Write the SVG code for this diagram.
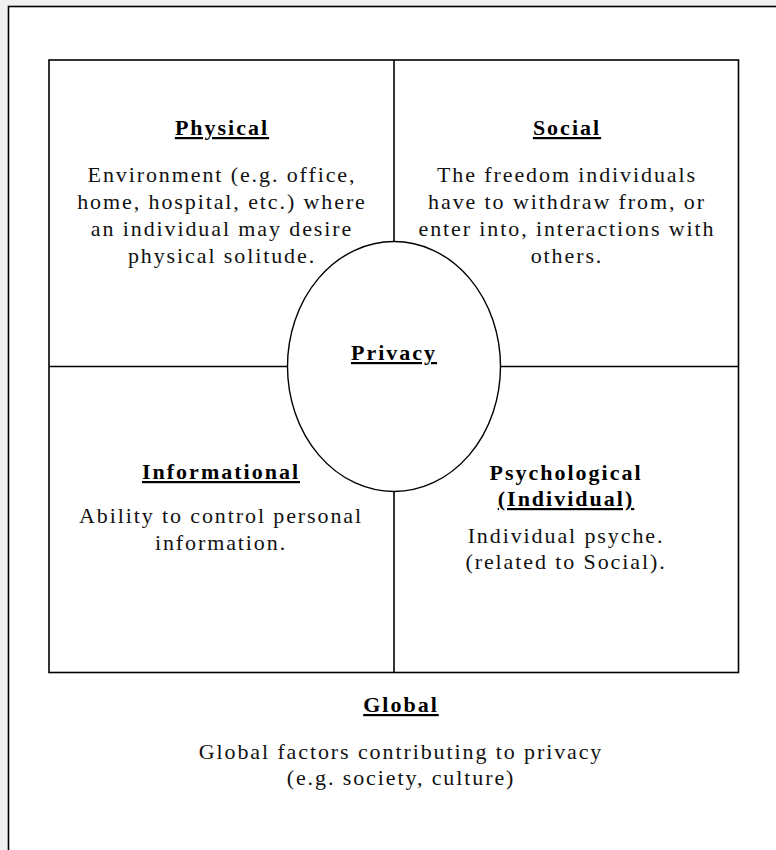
<svg xmlns="http://www.w3.org/2000/svg" width="776" height="850" viewBox="0 0 776 850">
  <style>
    .frame { fill: #ffffff; stroke: #000000; stroke-width: 1.6; }
    .grid { fill: none; stroke: #000000; stroke-width: 1.6; }
    .title { font-family: "Liberation Serif", "Times New Roman", serif; font-weight: bold; font-size: 22px; letter-spacing: 2px; fill: #000000; text-anchor: middle; }
    .ul { text-decoration: underline; }
    .body { font-family: "Liberation Serif", "Times New Roman", serif; font-size: 22px; letter-spacing: 1.9px; fill: #111111; text-anchor: middle; }
  </style>

  <!-- page background and outer frame -->
  <rect x="0" y="0" width="776" height="850" fill="#f1f1f1"/>
  <rect class="frame" x="8.5" y="6.5" width="790" height="870"/>

  <!-- quadrant grid -->
  <g id="connectors">
    <rect class="grid" x="49" y="60" width="689.5" height="612.5"/>
    <line class="grid" x1="394" y1="60" x2="394" y2="672.5"/>
    <line class="grid" x1="49" y1="366.5" x2="738.5" y2="366.5"/>
  </g>

  <g id="physical">
    <text class="title ul" x="222" y="135">Physical</text>
    <text class="body" x="222" y="182">Environment (e.g. office,</text>
    <text class="body" x="222" y="209">home, hospital, etc.) where</text>
    <text class="body" x="222" y="236">an individual may desire</text>
    <text class="body" x="222" y="263">physical solitude.</text>
  </g>

  <g id="social">
    <text class="title ul" x="567" y="135">Social</text>
    <text class="body" x="567" y="182">The freedom individuals</text>
    <text class="body" x="567" y="209">have to withdraw from, or</text>
    <text class="body" x="567" y="236">enter into, interactions with</text>
    <text class="body" x="567" y="263">others.</text>
  </g>

  <g id="informational">
    <text class="title ul" x="221" y="479">Informational</text>
    <text class="body" x="221" y="523">Ability to control personal</text>
    <text class="body" x="221" y="550">information.</text>
  </g>

  <g id="psychological">
    <text class="title" x="566" y="480">Psychological</text>
    <text class="title ul" x="566" y="506">(Individual)</text>
    <text class="body" x="566" y="543">Individual psyche.</text>
    <text class="body" x="566" y="569">(related to Social).</text>
  </g>

  <g id="privacy">
    <ellipse cx="394" cy="366.5" rx="106.5" ry="125" fill="#ffffff" stroke="#000000" stroke-width="1.4"/>
    <text class="title ul" x="394" y="360">Privacy</text>
  </g>

  <g id="global">
    <text class="title ul" x="401" y="712">Global</text>
    <text class="body" x="401" y="759">Global factors contributing to privacy</text>
    <text class="body" x="401" y="785">(e.g. society, culture)</text>
  </g>
</svg>
